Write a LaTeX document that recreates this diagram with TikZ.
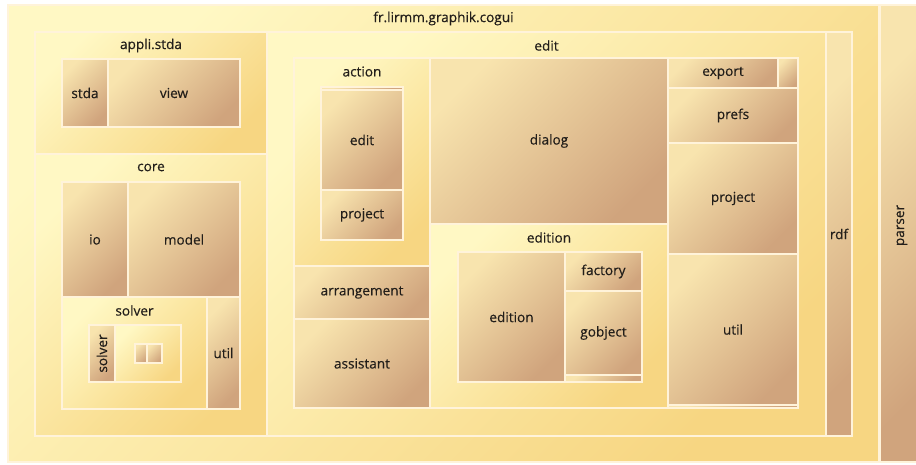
\documentclass[tikz,border=0pt]{standalone}
\usepackage{fontspec}
\setmainfont{Open Sans}[FakeBold=0.35]
\definecolor{pkgA}{HTML}{FFF8C4}
\definecolor{pkgB}{HTML}{F7D682}
\definecolor{leafA}{HTML}{F8E4AE}
\definecolor{leafB}{HTML}{D0A47D}
\definecolor{edgec}{HTML}{FFF3DA}
\definecolor{txt}{HTML}{221E1A}
% treemap cell: style, name, x1, y1, x2, y2, text
\newcommand\tmcell[7]{%
  \node[#1, minimum width={(#5-#3)*1pt}, minimum height={(#6-#4)*1pt}] (#2) at (#3,#4) {#7};}
\begin{document}
\begin{tikzpicture}[x=1pt,y=-1pt,
  cell/.style={draw=edgec, line width=1.3pt, inner sep=0pt, outer sep=0pt,
    anchor=north west, text=txt, font=\fontsize{13.6}{16}\selectfont},
  pkg/.style={cell, top color=pkgA, bottom color=pkgB, shading angle=45},
  leaf/.style={cell, top color=leafA, bottom color=leafB, shading angle=45},
  plabel/.style={text=txt, font=\fontsize{13.6}{16}\selectfont, inner sep=0pt}]
\fill[white] (0,0) rectangle (916,464);
\useasboundingbox (0,0) rectangle (916,464);
\clip (0,0) rectangle (916,464);

% root package and its sibling
\tmcell{pkg}{root}{8}{5}{879}{462}{}
\node[plabel] (rootlbl) at ([yshift=-13.5pt]root.north) {fr.lirmm.graphik.cogui};
\tmcell{leaf}{parser}{880}{5}{924}{462}{}
\node[plabel, rotate=90] (parserlbl) at ([yshift=8pt]parser.center) {parser};

% appli.stda
\tmcell{pkg}{appli}{35}{32}{267}{154}{}
\node[plabel] (applilbl) at ([yshift=-13.5pt]appli.north) {appli.stda};
\tmcell{leaf}{stda}{62}{59}{108}{127}{stda}
\tmcell{leaf}{view}{108}{59}{240}{127}{view}

% core
\tmcell{pkg}{core}{35}{154}{267}{436}{}
\node[plabel] (corelbl) at ([yshift=-13.5pt]core.north) {core};
\tmcell{leaf}{io}{62}{182}{128}{297}{io}
\tmcell{leaf}{model}{128}{182}{240}{297}{model}
\tmcell{pkg}{solverpkg}{62}{297}{207}{409}{}
\node[plabel] (solverlbl) at ([yshift=-13.5pt]solverpkg.north) {solver};
\tmcell{leaf}{solverleaf}{89}{325}{115}{382}{}
\node[plabel, rotate=90] (solverleaflbl) at (solverleaf.center) {solver};
\tmcell{pkg}{solversub}{115}{325}{181}{382}{}
\tmcell{leaf}{tinyA}{135}{344}{147}{363}{}
\tmcell{leaf}{tinyB}{147}{344}{162}{363}{}
\tmcell{leaf}{coreutil}{207}{297}{240}{409}{util}

% edit
\tmcell{pkg}{edit}{267}{32}{826}{436}{}
\node[plabel] (editlbl) at ([yshift=-13.5pt]edit.north) {edit};
\tmcell{pkg}{action}{294}{58}{430}{266}{}
\node[plabel] (actionlbl) at ([yshift=-13.5pt]action.north) {action};
\tmcell{leaf}{actionstrip}{321}{87}{403}{90}{}
\tmcell{leaf}{actionedit}{321}{90}{403}{190}{edit}
\tmcell{leaf}{actionproject}{321}{190}{403}{240}{project}
\tmcell{leaf}{arrangement}{294}{266}{430}{319}{arrangement}
\tmcell{leaf}{assistant}{294}{319}{430}{408}{assistant}
\tmcell{leaf}{dialog}{430}{58}{668}{224}{dialog}
\tmcell{pkg}{edition}{430}{224}{668}{408}{}
\node[plabel] (editionlbl) at ([yshift=-13.5pt]edition.north) {edition};
\tmcell{leaf}{editionleaf}{458}{252}{565}{382}{edition}
\tmcell{leaf}{factory}{565}{252}{642}{291}{factory}
\tmcell{leaf}{gobject}{565}{291}{642}{375}{gobject}
\tmcell{leaf}{editionstrip}{565}{375}{642}{382}{}
\tmcell{leaf}{export}{668}{58}{778}{88}{export}
\tmcell{leaf}{exportside}{778}{58}{798}{88}{}
\tmcell{leaf}{prefs}{668}{88}{798}{143}{prefs}
\tmcell{leaf}{editproject}{668}{143}{798}{254}{project}
\tmcell{leaf}{editutil}{668}{254}{798}{405}{util}
\tmcell{leaf}{utilstrip}{668}{405}{798}{408}{}

% rdf
\tmcell{leaf}{rdf}{826}{32}{852}{436}{rdf}
\end{tikzpicture}
\end{document}
